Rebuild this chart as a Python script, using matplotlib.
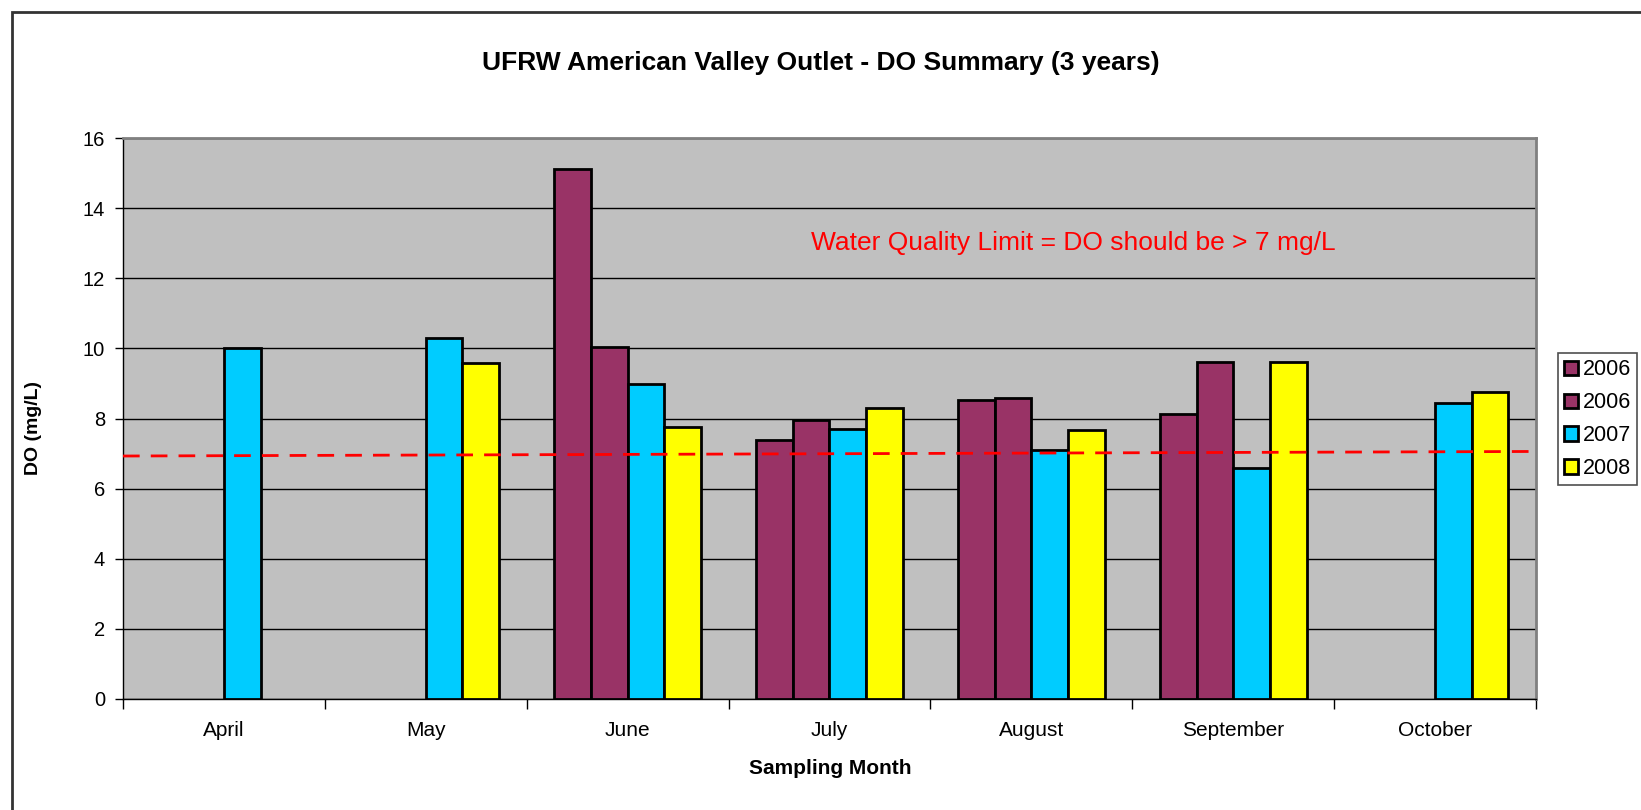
import numpy as np
import matplotlib.pyplot as plt
from matplotlib.patches import Patch, Rectangle

months = ['April', 'May', 'June', 'July', 'August', 'September', 'October']
series_labels = ['2006', '2006', '2007', '2008']
series_colors = ['#993366', '#993366', '#00CCFF', '#FFFF00']
do_2006a = [np.nan, np.nan, 15.12, 7.39, 8.52, 8.13, np.nan]
do_2006b = [np.nan, np.nan, 10.04, 7.96, 8.59, 9.61, np.nan]
do_2007 = [10.0, 10.29, 8.97, 7.69, 7.11, 6.59, 8.44]
do_2008 = [np.nan, 9.59, 7.76, 8.31, 7.68, 9.61, 8.76]
limit_start, limit_end = 6.93, 7.06
note = 'Water Quality Limit = DO should be > 7 mg/L'

plt.rcParams['font.family'] = ['Liberation Sans', 'DejaVu Sans']

W, H = 1641, 810
fig = plt.figure(figsize=(W / 100, H / 100), dpi=100)
ax = fig.add_axes([123 / W, 1 - 699 / H, (1536 - 123) / W, (699 - 138) / H])
ax.set_facecolor('#C0C0C0')

x = np.arange(len(months))
w = 1 / 5.5
handles = []
for i, (vals, col, lab) in enumerate(zip([do_2006a, do_2006b, do_2007, do_2008],
                                         series_colors, series_labels)):
    vals = np.array(vals, dtype=float)
    ok = ~np.isnan(vals)
    ax.bar(x[ok] + (i - 1.5) * w, vals[ok], width=w, color=col,
           edgecolor='black', linewidth=2, zorder=3)
    handles.append(Patch(facecolor=col, edgecolor='black', linewidth=2, label=lab))

ax.set_xlim(-0.5, len(months) - 0.5)
ax.set_ylim(0, 16)
ax.set_yticks(range(0, 17, 2))
ax.yaxis.grid(True, color='black', linewidth=1, zorder=0)
ax.set_axisbelow(True)

ax.set_xticks(x)
ax.set_xticklabels(months, fontsize=15)
ax.tick_params(axis='x', length=0, pad=16)
ax.set_xticks(np.arange(-0.5, len(months)), minor=True)
ax.tick_params(axis='x', which='minor', length=7, width=1, direction='out')
ax.tick_params(axis='y', labelsize=14.5, length=6, width=1, pad=7)

for s in ['top', 'right']:
    ax.spines[s].set_color('#808080')
    ax.spines[s].set_linewidth(2)
for s in ['left', 'bottom']:
    ax.spines[s].set_color('black')
    ax.spines[s].set_linewidth(1)

ax.plot([-0.5, len(months) - 0.5], [limit_start, limit_end], color='red',
        linestyle=(0, (6, 4)), linewidth=2, zorder=4)
ax.text(2.91, 13.0, note, color='red', fontsize=19, va='center', ha='left')

fig.text(830 / W, 1 - 768 / H, 'Sampling Month', fontsize=15, fontweight='bold',
         ha='center', va='center')
fig.text(34 / W, 1 - 428 / H, 'DO (mg/L)', fontsize=14, fontweight='bold',
         ha='center', va='center', rotation=90)
fig.text(0.5, 1 - 63 / H, 'UFRW American Valley Outlet - DO Summary (3 years)',
         ha='center', va='center', fontsize=19, fontweight='bold')

leg = fig.legend(handles=handles, loc='upper left',
                 bbox_to_anchor=(1558 / W, 1 - 353 / H), fontsize=15.5,
                 frameon=True, fancybox=False, handlelength=0.65, handleheight=0.65,
                 handletextpad=0.2, borderpad=0.3, labelspacing=0.55, borderaxespad=0)
leg.get_frame().set_edgecolor('#222222')
leg.get_frame().set_linewidth(1.2)

fig.patches.append(Rectangle((12 / W, -0.1), 1.2, 1 - 12 / H + 0.1,
                             transform=fig.transFigure, fill=False,
                             edgecolor='#333333', linewidth=2))

fig.savefig('out.png', dpi=100)
